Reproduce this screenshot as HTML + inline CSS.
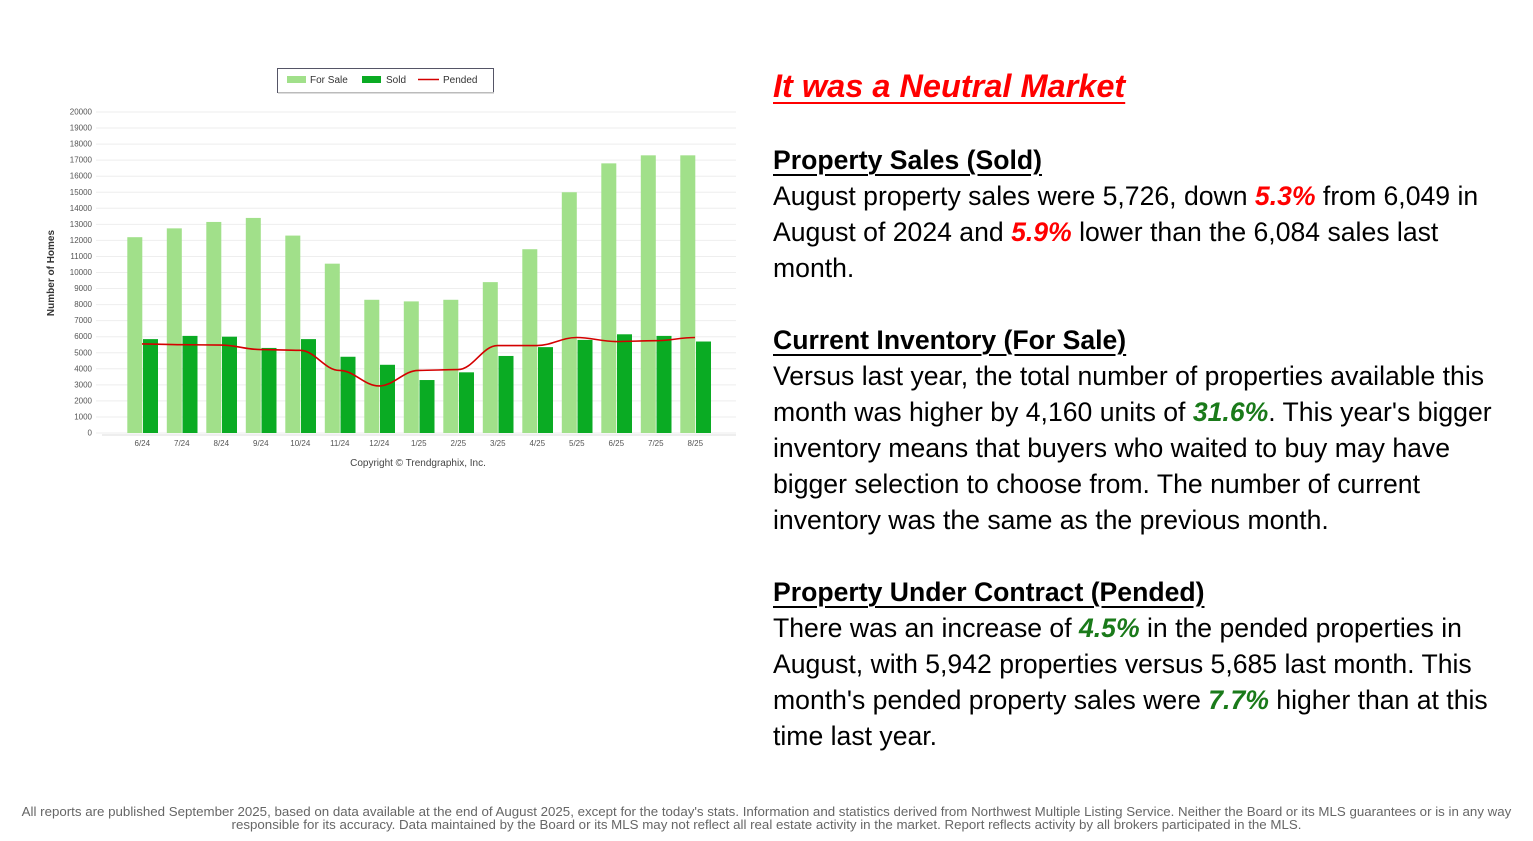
<!DOCTYPE html>
<html><head><meta charset="utf-8"><style>
body{margin:0;width:1533px;height:841px;background:#fff;font-family:"Liberation Sans",Arial,sans-serif;position:relative;overflow:hidden}
#txt{position:absolute;left:773px;top:64px;width:730px;color:#000}
h1{margin:0;font-size:32.5px;font-style:italic;font-weight:bold;color:#f00;text-decoration:underline;text-decoration-thickness:2px;text-underline-offset:5px;line-height:44px}
h2{margin:0;font-size:26.6px;font-weight:bold;text-decoration:underline;text-decoration-thickness:2px;text-underline-offset:5px;line-height:36px}
p{margin:0;font-size:26.6px;line-height:36px}
.r{color:#f00;font-weight:bold;font-style:italic}.g{color:#1a7a1a;font-weight:bold;font-style:italic}
#foot{position:absolute;left:0;width:1533px;top:805px;text-align:center;font-size:13.3px;color:#666;line-height:13px}
</style></head><body>
<svg id="c" width="760" height="480" style="position:absolute;left:0;top:0" font-family="Liberation Sans, Arial, sans-serif"></svg>
<div id="txt">
<h1>It was a Neutral Market</h1>
<div style="height:34px"></div>
<h2>Property Sales (Sold)</h2>
<p>August property sales were 5,726, down <span class="r">5.3%</span> from 6,049 in August of 2024 and <span class="r">5.9%</span> lower than the 6,084 sales last month.</p>
<div style="height:36px"></div>
<h2>Current Inventory (For Sale)</h2>
<p>Versus last year, the total number of properties available this month was higher by 4,160 units of <span class="g">31.6%</span>. This year's bigger inventory means that buyers who waited to buy may have bigger selection to choose from. The number of current inventory was the same as the previous month.</p>
<div style="height:36px"></div>
<h2>Property Under Contract (Pended)</h2>
<p>There was an increase of <span class="g">4.5%</span> in the pended properties in August, with 5,942 properties versus 5,685 last month. This month's pended property sales were <span class="g">7.7%</span> higher than at this time last year.</p>
</div>
<div id="foot">All reports are published September 2025, based on data available at the end of August 2025, except for the today's stats. Information and statistics derived from Northwest Multiple Listing Service. Neither the Board or its MLS guarantees or is in any way<br>responsible for its accuracy. Data maintained by the Board or its MLS may not reflect all real estate activity in the market. Report reflects activity by all brokers participated in the MLS.</div>
<script>
var s='',k=0.01605,z=433;
for(var v=0;v<=20000;v+=1000){var y=z-v*k;s+='<line x1="96" x2="736" y1="'+y+'" y2="'+y+'" stroke="#eee"/>';s+='<text x="92" y="'+(y+2.5)+'" font-size="8" fill="#555" text-anchor="end">'+v+'</text>';}
s+='<line x1="102" x2="736" y1="435" y2="435" stroke="#ddd"/>';
var fs=[12200,12750,13150,13400,12300,10550,8300,8200,8300,9400,11450,15000,16800,17300,17300];
var sd=[5850,6050,6000,5300,5850,4750,4250,3300,3780,4800,5350,5800,6150,6050,5700];
var pd=[5550,5500,5480,5200,5150,3900,2930,3900,3950,5450,5450,5950,5700,5750,5950];
var lb=['6/24','7/24','8/24','9/24','10/24','11/24','12/24','1/25','2/25','3/25','4/25','5/25','6/25','7/25','8/25'];
var d='';
for(var i=0;i<15;i++){var x=127.3+39.5*i;
s+='<rect x="'+x+'" y="'+(z-fs[i]*k)+'" width="15" height="'+fs[i]*k+'" fill="#a1e08a"/>';
s+='<rect x="'+(x+15.7)+'" y="'+(z-sd[i]*k)+'" width="15" height="'+sd[i]*k+'" fill="#0aab23"/>';
s+='<text x="'+(x+15)+'" y="446" font-size="8" fill="#555" text-anchor="middle">'+lb[i]+'</text>';
var cx=142+39.5*i,cy=z-pd[i]*k;
if(i==0)d='M'+cx+' '+cy;else{var px=cx-39.5,py=z-pd[i-1]*k;d+=' C'+(px+15)+' '+py+' '+(cx-15)+' '+cy+' '+cx+' '+cy;}}
s+='<path d="'+d+'" fill="none" stroke="#d40000" stroke-width="1.6"/>';
s+='<text transform="translate(54,273) rotate(-90)" font-size="10" font-weight="bold" fill="#333" text-anchor="middle">Number of Homes</text>';
s+='<text x="418" y="466" font-size="10" fill="#444" text-anchor="middle">Copyright © Trendgraphix, Inc.</text>';
s+='<rect x="277.5" y="68.5" width="216" height="24" fill="#fff" stroke="#556" stroke-width="1"/><rect x="278" y="92" width="216" height="1.5" fill="#bbb"/>';
s+='<rect x="287" y="76" width="19" height="7" fill="#a1e08a"/><text x="310" y="83" font-size="10" fill="#333">For Sale</text>';
s+='<rect x="362" y="76" width="19" height="7" fill="#0aab23"/><text x="386" y="83" font-size="10" fill="#333">Sold</text>';
s+='<line x1="418" x2="439" y1="79.5" y2="79.5" stroke="#d40000" stroke-width="1.5"/><text x="443" y="83" font-size="10" fill="#333">Pended</text>';
document.getElementById('c').innerHTML=s;
</script>
</body></html>
